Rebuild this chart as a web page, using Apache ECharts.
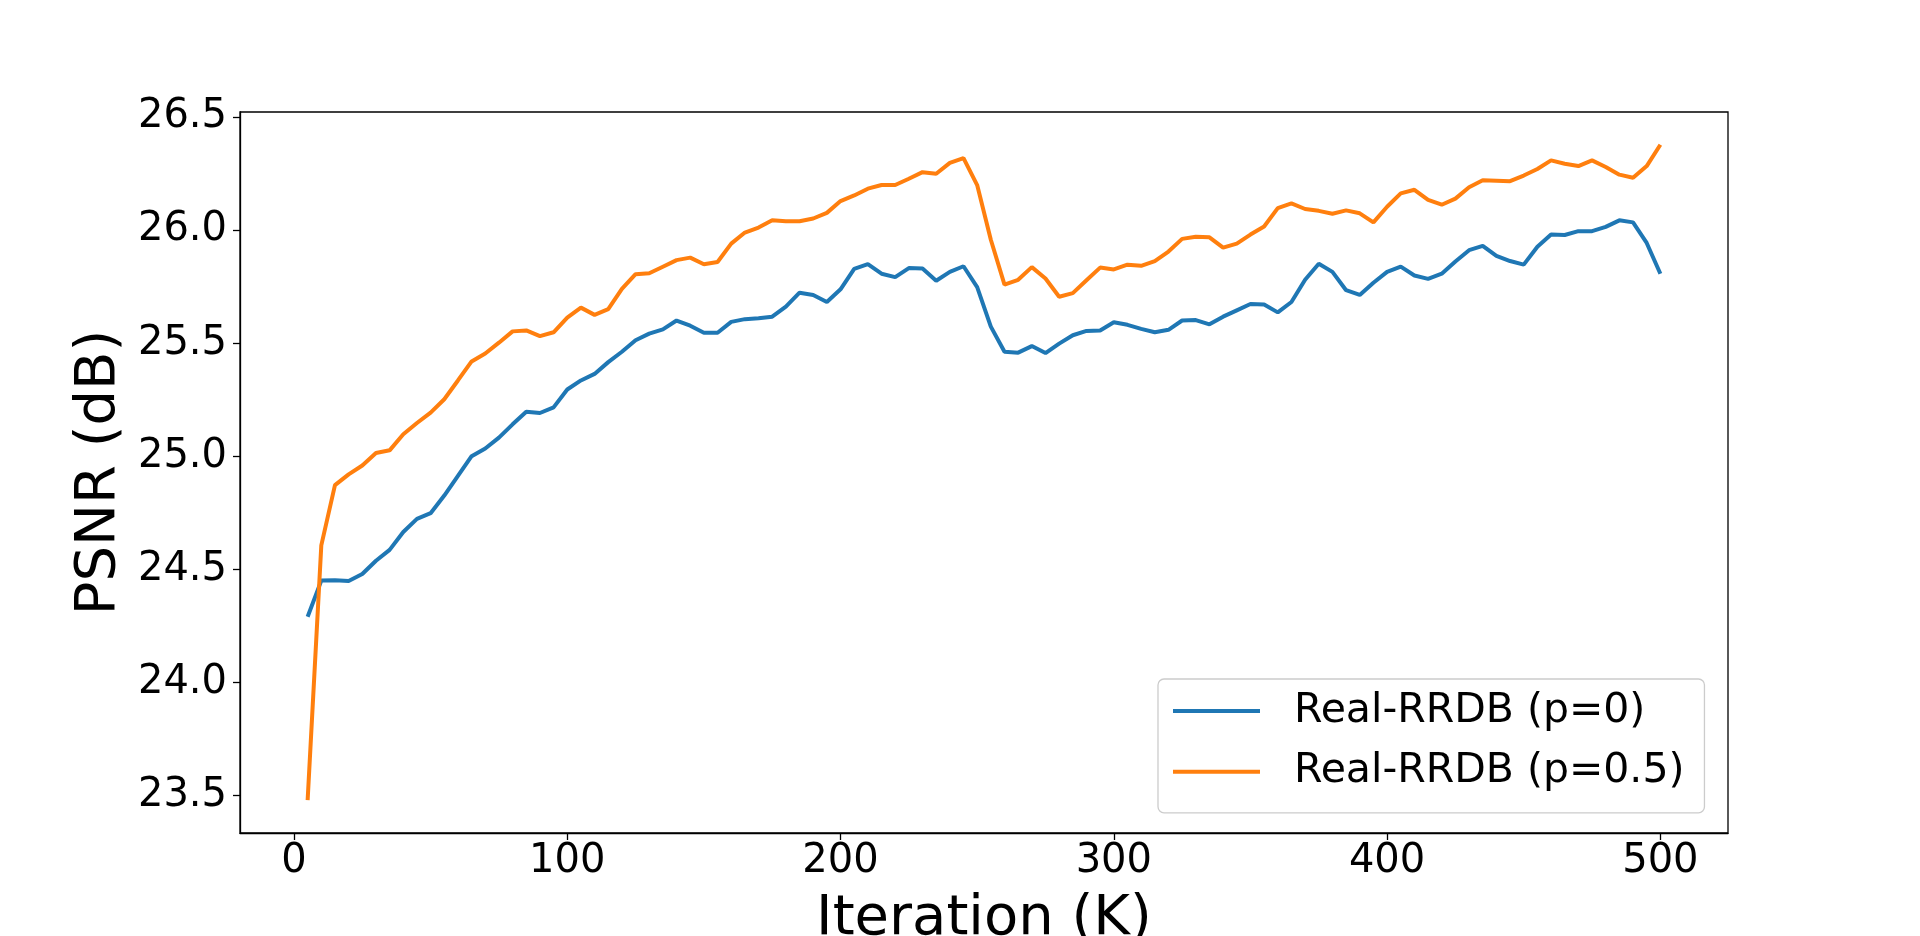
<!DOCTYPE html>
<html>
<head>
<meta charset="utf-8">
<script src="https://cdn.jsdelivr.net/npm/echarts@6/dist/echarts.min.js"></script>
<style>
  html, body { margin: 0; padding: 0; background: #fff; overflow: hidden; }
  #chart { width: 1920px; height: 936px; }
</style>
</head>
<body>
<div id="chart"></div>
<script>
// ---- data ----
const iterK = [5,10,15,20,25,30,35,40,45,50,55,60,65,70,75,80,85,90,95,100,
  105,110,115,120,125,130,135,140,145,150,155,160,165,170,175,180,185,190,195,200,
  205,210,215,220,225,230,235,240,245,250,255,260,265,270,275,280,285,290,295,300,
  305,310,315,320,325,330,335,340,345,350,355,360,365,370,375,380,385,390,395,400,
  405,410,415,420,425,430,435,440,445,450,455,460,465,470,475,480,485,490,495,500];

const psnrP0 = [24.290,24.450,24.452,24.448,24.479,24.538,24.586,24.665,24.723,24.748,
  24.826,24.913,25.000,25.034,25.082,25.141,25.197,25.191,25.216,25.295,
  25.335,25.364,25.416,25.462,25.513,25.542,25.561,25.600,25.577,25.546,
  25.546,25.594,25.606,25.610,25.617,25.661,25.723,25.713,25.682,25.738,
  25.828,25.849,25.807,25.792,25.832,25.830,25.776,25.815,25.840,25.748,
  25.573,25.462,25.458,25.487,25.456,25.498,25.535,25.554,25.556,25.592,
  25.581,25.563,25.548,25.559,25.600,25.602,25.583,25.617,25.645,25.673,
  25.671,25.636,25.682,25.780,25.851,25.815,25.734,25.713,25.767,25.815,
  25.838,25.799,25.784,25.807,25.861,25.911,25.930,25.886,25.863,25.847,
  25.926,25.980,25.978,25.995,25.995,26.014,26.043,26.034,25.943,25.807];

const psnrP05 = [23.479,24.606,24.872,24.920,24.959,25.014,25.026,25.097,25.147,25.193,
  25.252,25.335,25.419,25.454,25.502,25.552,25.556,25.531,25.548,25.613,
  25.657,25.625,25.650,25.740,25.805,25.809,25.838,25.867,25.878,25.849,
  25.859,25.940,25.989,26.011,26.043,26.039,26.039,26.051,26.076,26.128,
  26.153,26.183,26.199,26.199,26.227,26.256,26.249,26.297,26.318,26.199,
  25.957,25.759,25.780,25.836,25.786,25.705,25.721,25.778,25.834,25.826,
  25.847,25.842,25.863,25.905,25.961,25.970,25.968,25.922,25.940,25.980,
  26.016,26.097,26.118,26.093,26.085,26.072,26.087,26.074,26.034,26.103,
  26.162,26.178,26.133,26.112,26.139,26.189,26.220,26.218,26.216,26.241,
  26.270,26.308,26.293,26.283,26.308,26.279,26.245,26.231,26.283,26.377];

const seriesNames = ['Real-RRDB (p=0)', 'Real-RRDB (p=0.5)'];
const xTicks = [0, 100, 200, 300, 400, 500];
const yTicks = [23.5, 24.0, 24.5, 25.0, 25.5, 26.0, 26.5];
const xTitle = 'Iteration (K)';
const yTitle = 'PSNR (dB)';

// ---- chart ----
const FONT = "'DejaVu Sans', 'Liberation Sans', sans-serif";
const chart = echarts.init(document.getElementById('chart'), null, { renderer: 'canvas' });

const pairs = (ys) => iterK.map((x, i) => [x, ys[i]]);

chart.setOption({
  animation: false,
  backgroundColor: '#ffffff',
  grid: {
    left: 240, right: 192, top: 112, bottom: 103,
    containLabel: false,
    outerBoundsMode: 'none',
    show: true, borderColor: '#000000', borderWidth: 1.3,
    backgroundColor: 'transparent'
  },
  xAxis: {
    type: 'value',
    min: -19.75, max: 524.75,
    splitLine: { show: false },
    axisLine: { show: true, onZero: false, lineStyle: { color: '#000', width: 1.3 } },
    axisTick: { show: true, length: 7, customValues: xTicks, lineStyle: { color: '#000', width: 1.3 } },
    axisLabel: {
      customValues: xTicks, margin: 9,
      color: '#000', fontSize: 40, fontFamily: FONT,
      formatter: (v) => String(Math.round(v))
    },
    name: xTitle, nameLocation: 'middle', nameGap: 58,
    nameTextStyle: { color: '#000', fontSize: 56, fontFamily: FONT }
  },
  yAxis: {
    type: 'value',
    min: 23.334, max: 26.522,
    splitLine: { show: false },
    axisLine: { show: true, onZero: false, lineStyle: { color: '#000', width: 1.3 } },
    axisTick: { show: true, length: 7, customValues: yTicks, lineStyle: { color: '#000', width: 1.3 } },
    axisLabel: {
      customValues: yTicks, margin: 13,
      color: '#000', fontSize: 40, fontFamily: FONT,
      formatter: (v) => Number(v).toFixed(1)
    },
    name: yTitle, nameLocation: 'middle', nameGap: 100, nameRotate: 90,
    nameTextStyle: { color: '#000', fontSize: 56, fontFamily: FONT }
  },
  legend: {
    orient: 'vertical',
    left: 1158, top: 679,
    icon: 'rect',
    itemWidth: 87, itemHeight: 4,
    itemGap: 12.8,
    padding: [8, 20, 17, 15],
    backgroundColor: 'rgba(255,255,255,0.8)',
    borderColor: '#cccccc', borderWidth: 1.3, borderRadius: 6,
    textStyle: {
      color: '#000', fontSize: 41, fontFamily: FONT,
      lineHeight: 48, padding: [0, 0, 0, 29]
    },
    data: seriesNames
  },
  series: [
    {
      name: seriesNames[0], type: 'line', data: pairs(psnrP0),
      showSymbol: false, symbol: 'none',
      lineStyle: { color: '#1f77b4', width: 4 }, itemStyle: { color: '#1f77b4' },
      z: 3
    },
    {
      name: seriesNames[1], type: 'line', data: pairs(psnrP05),
      showSymbol: false, symbol: 'none',
      lineStyle: { color: '#ff7f0e', width: 4 }, itemStyle: { color: '#ff7f0e' },
      z: 4
    }
  ]
});
</script>
</body>
</html>
